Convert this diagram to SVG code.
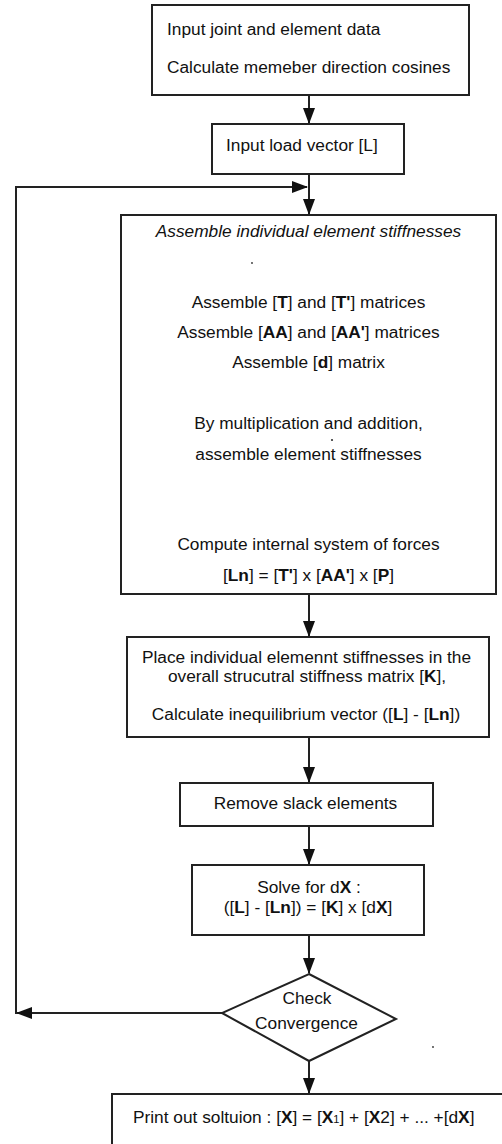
<svg xmlns="http://www.w3.org/2000/svg" width="502" height="1144" viewBox="0 0 502 1144">
<defs>
<style>
.box{fill:#fff;stroke:#222;stroke-width:2}
.ln{fill:none;stroke:#222;stroke-width:2}
.t{font-family:"Liberation Sans",Arial,sans-serif;font-size:17.3px;fill:#111}
.c{text-anchor:middle}
.b{font-weight:bold}
.i{font-style:italic}
.dot{fill:#333}
</style>
<marker id="ah" markerUnits="userSpaceOnUse" markerWidth="16" markerHeight="12" refX="15" refY="6" orient="auto">
<path d="M0,0 L16,6 L0,12 Z" fill="#111"/>
</marker>
</defs>
<rect width="502" height="1144" fill="#fff"/>

<g id="connectors">
<line class="ln" x1="309" y1="95" x2="309" y2="123" marker-end="url(#ah)"/>
<line class="ln" x1="309" y1="174" x2="309" y2="214" marker-end="url(#ah)"/>
<line class="ln" x1="309" y1="594" x2="309" y2="636" marker-end="url(#ah)"/>
<line class="ln" x1="309" y1="737" x2="309" y2="782" marker-end="url(#ah)"/>
<line class="ln" x1="309" y1="826" x2="309" y2="864" marker-end="url(#ah)"/>
<line class="ln" x1="309" y1="935" x2="309" y2="973" marker-end="url(#ah)"/>
<line class="ln" x1="309" y1="1061" x2="309" y2="1093" marker-end="url(#ah)"/>
<line class="ln" x1="222" y1="1013" x2="17" y2="1013" marker-end="url(#ah)"/>
<polyline class="ln" points="16,1014 16,187 307,187" marker-end="url(#ah)"/>
</g>

<g id="node-input-data">
<rect class="box" x="152" y="5" width="317" height="90"/>
<text class="t" x="167" y="35">Input joint and element data</text>
<text class="t" x="167" y="73">Calculate memeber direction cosines</text>
</g>

<g id="node-load-vector">
<rect class="box" x="212" y="124" width="192" height="50"/>
<text class="t" x="226" y="151">Input load vector [L]</text>
</g>

<g id="node-assemble">
<rect class="box" x="121" y="215" width="375" height="379"/>
<text class="t c i" x="308.5" y="237">Assemble individual element stiffnesses</text>
<circle class="dot" cx="252" cy="263" r="0.9"/>
<text class="t c" x="308.5" y="308">Assemble [<tspan class="b">T</tspan>] and [<tspan class="b">T'</tspan>] matrices</text>
<text class="t c" x="308.5" y="338">Assemble [<tspan class="b">AA</tspan>] and [<tspan class="b">AA'</tspan>] matrices</text>
<text class="t c" x="308.5" y="368">Assemble [<tspan class="b">d</tspan>] matrix</text>
<text class="t c" x="308.5" y="429">By multiplication and addition,</text>
<circle class="dot" cx="332" cy="440" r="1.1"/>
<text class="t c" x="308.5" y="460">assemble element stiffnesses</text>
<text class="t c" x="308.5" y="550">Compute internal system of forces</text>
<text class="t c" x="308.5" y="581">[<tspan class="b">Ln</tspan>] = [<tspan class="b">T'</tspan>] x [<tspan class="b">AA'</tspan>] x [<tspan class="b">P</tspan>]</text>
</g>

<g id="node-place">
<rect class="box" x="127" y="637" width="362" height="100"/>
<text class="t c" x="306.5" y="663">Place individual elemennt stiffnesses in the</text>
<text class="t c" x="307" y="682">overall strucutral stiffness matrix [<tspan class="b">K</tspan>],</text>
<text class="t c" x="306" y="720">Calculate inequilibrium vector ([<tspan class="b">L</tspan>] - [<tspan class="b">Ln</tspan>])</text>
</g>

<g id="node-remove-slack">
<rect class="box" x="180" y="783" width="253" height="43"/>
<text class="t c" x="305.5" y="809">Remove slack elements</text>
</g>

<g id="node-solve">
<rect class="box" x="192" y="865" width="232" height="70"/>
<text class="t c" x="309" y="893">Solve for d<tspan class="b">X</tspan> :</text>
<text class="t c" x="308" y="913">([<tspan class="b">L</tspan>] - [<tspan class="b">Ln</tspan>]) = [<tspan class="b">K</tspan>] x [d<tspan class="b">X</tspan>]</text>
</g>

<g id="node-check">
<polygon class="box" points="309,974 396,1019 309,1061 222,1013"/>
<text class="t c" x="307" y="1004">Check</text>
<text class="t c" x="306.5" y="1029">Convergence</text>
<circle class="dot" cx="433" cy="1047" r="0.9"/>
</g>

<g id="node-print">
<rect class="box" x="112" y="1094" width="400" height="60"/>
<text class="t" x="133" y="1123">Print out soltuion : [<tspan class="b">X</tspan>] = [<tspan class="b">X</tspan><tspan font-size="11">1</tspan>] + [<tspan class="b">X</tspan>2] + ... +[d<tspan class="b">X</tspan>]</text>
</g>
</svg>
